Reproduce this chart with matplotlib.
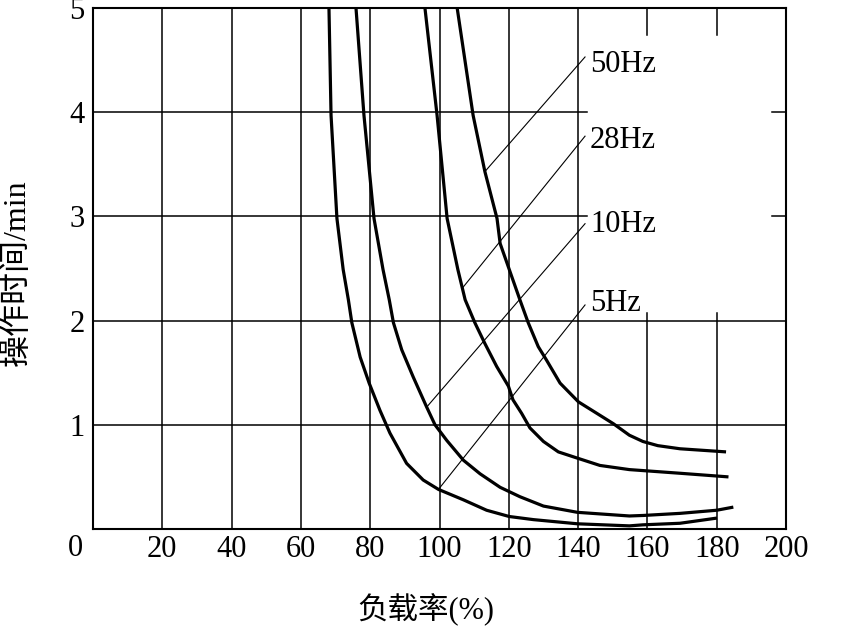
import matplotlib.pyplot as plt

# curves: load ratio (%) vs operating time (min)
x_5hz = [68.1, 68.7, 70.4, 72.2, 73.7, 74.7, 77.1, 79.7, 82.8, 85.7, 90.5, 95.3, 99.7,
         106.9, 113.6, 120.1, 127.1, 139.8, 154.8, 158.7, 169.4, 180.1]
y_5hz = [5.0, 3.97, 2.98, 2.49, 2.20, 1.98, 1.65, 1.40, 1.14, 0.92, 0.63, 0.47, 0.38,
         0.28, 0.18, 0.12, 0.09, 0.05, 0.03, 0.04, 0.055, 0.105]

x_10hz = [75.9, 78.2, 81.1, 83.7, 85.5, 86.7, 89.1, 92.4, 96.3, 98.7, 102.1, 106.9, 111.7,
          117.5, 123.2, 130.0, 139.8, 154.8, 158.8, 169.4, 180.0, 184.8]
y_10hz = [5.0, 3.97, 2.98, 2.49, 2.20, 1.98, 1.72, 1.46, 1.17, 1.00, 0.85, 0.66, 0.53,
          0.40, 0.31, 0.22, 0.16, 0.125, 0.13, 0.15, 0.18, 0.21]

x_28hz = [95.8, 99.3, 102.2, 105.3, 107.4, 110.2, 113.1, 116.5, 119.9, 121.2, 123.7, 126.1,
          130.0, 134.3, 139.8, 146.3, 154.8, 169.4, 183.4]
y_28hz = [5.0, 3.97, 2.98, 2.49, 2.20, 1.98, 1.78, 1.56, 1.37, 1.24, 1.11, 0.97,
          0.84, 0.74, 0.68, 0.61, 0.57, 0.535, 0.50]

x_50hz = [105.1, 109.7, 113.1, 116.6, 117.5, 123.2, 125.6, 128.5, 130.9, 134.8, 140.1,
          145.4, 150.2, 154.8, 158.7, 163.0, 169.4, 182.7]
y_50hz = [5.0, 3.97, 3.43, 2.98, 2.74, 2.20, 1.98, 1.75, 1.62, 1.40, 1.22,
          1.11, 1.01, 0.90, 0.84, 0.80, 0.77, 0.74]

# leader lines: point on curve -> label end
labels = ['50Hz', '28Hz', '10Hz', '5Hz']
lead_start = [(113.1, 3.43), (106.8, 2.32), (96.3, 1.17), (99.7, 0.38)]
lead_end = [(142.0, 4.53), (142.0, 3.77), (142.0, 2.93), (142.0, 2.15)]
label_base = [4.39, 3.66, 2.85, 2.09]

xticks = [20, 40, 60, 80, 100, 120, 140, 160, 180, 200]
yticks = [1, 2, 3, 4, 5]

serif = ['Liberation Serif', 'Noto Sans CJK SC']
plt.rcParams['font.family'] = serif

fig = plt.figure(figsize=(8.41, 6.27), dpi=100)
ax = fig.add_axes([93 / 841, 98 / 627, 693 / 841, 521 / 627])
ax.set_xlim(0, 200)
ax.set_ylim(0, 5)

# hand-drawn style grid (broken where the labels sit)
gw = 1.1
for gx in [20, 40, 60, 80, 100, 120, 140]:
    ax.axvline(gx, color='black', lw=gw)
for gx in [160, 180]:
    ax.plot([gx, gx], [0, 2.07], color='black', lw=gw)
    ax.plot([gx, gx], [4.74, 5], color='black', lw=gw)
for gy in [1, 2]:
    ax.axhline(gy, color='black', lw=gw)
for gy in [3, 4]:
    ax.plot([0, 142.5], [gy, gy], color='black', lw=gw)
    ax.plot([195.9, 200], [gy, gy], color='black', lw=gw)

for xs, ys in [(x_5hz, y_5hz), (x_10hz, y_10hz), (x_28hz, y_28hz), (x_50hz, y_50hz)]:
    ax.plot(xs, ys, color='black', lw=2.3, solid_capstyle='butt', solid_joinstyle='round')

for lab, s, e, yb in zip(labels, lead_start, lead_end, label_base):
    ax.plot([s[0], e[0]], [s[1], e[1]], color='black', lw=0.8)
    ax.text(143.4, yb, lab, fontsize=22, va='baseline', ha='left')

for sp in ax.spines.values():
    sp.set_linewidth(1.5)

ax.set_xticks(xticks)
ax.set_yticks(yticks)
ax.set_xticklabels([str(v) for v in xticks])
ax.set_yticklabels([str(v) for v in yticks])
ax.tick_params(length=0, labelsize=22, pad=4)
ax.tick_params(axis='y', pad=6)

fig.text(75 / 841, 1 - 549 / 627, '0', fontsize=22, ha='center', va='center')
fig.text(426 / 841, 1 - 610 / 627, '负载率(%)', fontsize=22, ha='center', va='center')
fig.text(17 / 841, 1 - 273 / 627, '操作时间/min', fontsize=23, ha='center', va='center',
         rotation=90)

fig.savefig('out.png', dpi=100)
